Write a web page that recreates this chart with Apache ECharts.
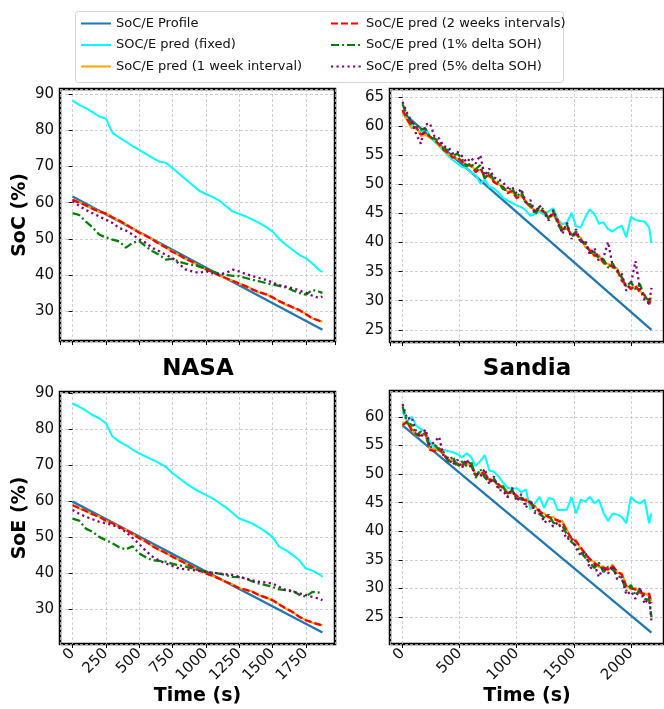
<!DOCTYPE html>
<html>
<head>
<meta charset="utf-8">
<script src="https://cdn.jsdelivr.net/npm/echarts@6/dist/echarts.min.js"></script>
<style>
  html, body { margin: 0; padding: 0; background: #fff; }
  #chart { width: 664px; height: 709px; }
</style>
</head>
<body>
<div id="chart"></div>
<script>
  // series names (legend order)
  const names = [
    'SoC/E Profile',
    'SOC/E pred (fixed)',
    'SoC/E pred (1 week interval)',
    'SoC/E pred (2 weeks intervals)',
    'SoC/E pred (1% delta SOH)',
    'SoC/E pred (5% delta SOH)'
  ]

  // ---- NASA ----
  const nasaTime = [0, 50, 100, 150, 200, 250, 300, 350, 400, 450, 500, 550, 600, 650, 700, 750, 800, 850, 900, 950,
    1000, 1050, 1100, 1150, 1200, 1250, 1300, 1350, 1400, 1450, 1500, 1550, 1600, 1650, 1700, 1750, 1800, 1850, 1875]
  const nasaProfileTime = [0, 1875]

  const nasaSocProfile = [61.7, 24.9]
  const nasaSocFixed = [88.2, 87.0, 86.1, 85.0, 83.8, 83.2, 79.3, 78.0, 76.9, 75.6,
    74.6, 73.5, 72.4, 71.4, 71.0, 69.6, 68.0, 66.4, 64.9, 63.3,
    62.4, 61.6, 60.6, 59.1, 57.6, 56.9, 56.2, 55.3, 54.4, 53.3,
    52.1, 50.0, 48.4, 47.0, 45.6, 44.7, 43.2, 41.4, 40.9]
  const nasaSocWeek1 = [60.9, 60.2, 59.1, 58.5, 57.4, 57.1, 56.0, 54.9, 54.1, 52.8,
    51.9, 50.8, 49.9, 48.7, 47.5, 46.6, 45.4, 44.5, 43.5, 42.6,
    41.5, 40.9, 40.0, 39.0, 38.5, 37.6, 37.0, 36.1, 35.1, 34.8,
    33.8, 32.9, 31.8, 31.2, 30.2, 29.4, 28.0, 27.5, 27.1]
  const nasaSocWeek2 = [60.8, 60.0, 59.3, 58.3, 57.6, 57.0, 55.9, 55.1, 54.0, 52.9,
    51.7, 50.9, 49.8, 48.6, 47.6, 46.4, 45.6, 44.4, 43.6, 42.4,
    41.6, 40.8, 39.9, 39.2, 38.4, 37.7, 36.9, 36.0, 35.3, 34.7,
    33.9, 32.8, 32.0, 31.1, 30.4, 29.2, 28.1, 27.4, 27.0]
  const nasaSocSoh1 = [57.1, 56.6, 54.8, 53.2, 51.2, 50.4, 49.8, 49.3, 47.6, 48.9,
    49.4, 47.9, 46.6, 45.6, 44.3, 44.5, 43.7, 43.2, 42.8, 42.4,
    41.8, 41.0, 40.4, 40.1, 39.8, 39.7, 39.2, 38.7, 38.3, 37.8,
    37.4, 37.0, 36.6, 35.8, 35.1, 34.6, 35.9, 35.4, 35.1]
  const nasaSocSoh5 = [60.4, 59.1, 58.0, 57.1, 56.2, 55.3, 54.4, 53.0, 52.3, 51.2,
    49.9, 48.9, 47.5, 46.6, 45.6, 44.7, 43.1, 41.5, 41.0, 40.6,
    41.1, 40.5, 40.2, 40.6, 41.5, 41.0, 40.3, 39.7, 39.2, 38.7,
    38.0, 37.2, 36.8, 36.4, 35.8, 35.1, 34.3, 33.7, 34.1]

  const nasaSoeProfile = [59.9, 23.5]
  const nasaSoeFixed = [87.2, 86.3, 85.2, 84.0, 83.1, 81.7, 78.0, 76.6, 75.6, 74.4,
    73.3, 72.4, 71.5, 70.6, 69.6, 67.8, 66.4, 65.0, 63.8, 62.7,
    61.8, 60.8, 59.6, 58.3, 56.8, 55.2, 54.5, 53.8, 52.7, 51.5,
    50.1, 47.4, 46.4, 45.1, 43.6, 41.3, 40.7, 39.7, 39.0]
  const nasaSoeWeek1 = [59.0, 58.0, 57.4, 56.3, 55.8, 54.5, 54.0, 52.8, 52.1, 50.8,
    49.8, 48.7, 47.6, 46.4, 45.7, 44.5, 43.7, 42.6, 41.8, 40.7,
    40.0, 39.2, 38.6, 37.5, 36.9, 35.9, 35.3, 34.9, 33.8, 33.3,
    32.4, 31.4, 30.1, 29.3, 27.8, 27.0, 26.2, 25.8, 25.5]
  const nasaSoeWeek2 = [58.9, 58.1, 57.3, 56.4, 55.7, 54.6, 53.9, 52.9, 52.0, 50.9,
    49.7, 48.8, 47.5, 46.5, 45.6, 44.6, 43.6, 42.7, 41.7, 40.8,
    39.9, 39.3, 38.5, 37.6, 36.8, 35.8, 35.4, 34.8, 33.9, 33.2,
    32.5, 31.3, 30.2, 29.2, 27.9, 26.9, 26.3, 25.7, 25.4]
  const nasaSoeSoh1 = [55.2, 54.6, 52.4, 51.5, 50.1, 49.2, 48.3, 47.2, 46.6, 47.5,
    45.5, 44.4, 43.6, 43.4, 43.2, 42.6, 42.2, 41.8, 41.3, 40.8,
    40.4, 40.1, 39.9, 39.5, 39.0, 38.9, 38.5, 37.7, 37.1, 36.7,
    36.2, 35.5, 35.3, 35.2, 34.0, 33.5, 34.8, 34.6, 34.4]
  const nasaSoeSoh5 = [57.6, 56.5, 55.7, 55.0, 54.3, 53.9, 53.4, 52.6, 51.5, 49.8,
    48.1, 46.2, 44.6, 43.5, 42.7, 42.0, 41.3, 41.1, 40.9, 40.6,
    40.4, 40.2, 39.9, 39.7, 39.5, 39.0, 38.5, 38.0, 37.6, 37.4,
    37.1, 36.2, 35.3, 34.9, 34.4, 33.9, 33.4, 32.9, 32.5]

  // ---- Sandia ----
  const sandiaTime = [0, 40, 80, 120, 160, 200, 240, 280, 320, 360, 400, 440, 480, 520, 560, 600, 640, 680, 720, 760,
    800, 840, 880, 920, 960, 1000, 1040, 1080, 1120, 1160, 1200, 1240, 1280, 1320, 1360, 1400, 1440, 1480, 1520, 1560,
    1600, 1640, 1680, 1720, 1760, 1800, 1840, 1880, 1920, 1960, 2000, 2040, 2080, 2120, 2160, 2180]
  const sandiaProfileTime = [0, 2180]

  const sandiaSocProfile = [62.4, 25.0]
  const sandiaSocFixed = [62.5, 61.0, 60.2, 59.5, 59.0, 59.6, 58.3, 57.3, 56.6, 55.8,
    54.9, 54.2, 53.6, 53.0, 52.8, 52.1, 51.6, 50.2, 50.8, 49.6,
    49.3, 48.6, 47.7, 47.2, 46.8, 46.4, 46.1, 45.5, 44.6, 44.9,
    45.3, 44.8, 45.4, 45.9, 43.9, 43.2, 43.4, 45.1, 42.8, 42.6,
    44.3, 45.7, 44.9, 43.2, 43.5, 42.3, 41.9, 42.5, 42.9, 40.9,
    44.4, 43.9, 43.7, 43.6, 42.6, 39.9]
  const sandiaSocWeek1 = [62.5, 61.0, 59.6, 59.9, 58.3, 58.5, 58.0, 57.8, 56.6, 56.2,
    55.1, 54.8, 54.4, 54.1, 53.2, 53.4, 52.3, 52.5, 51.5, 51.3,
    50.6, 50.1, 49.3, 48.8, 48.6, 47.9, 48.0, 47.2, 46.0, 45.6,
    45.5, 45.4, 44.2, 44.6, 43.9, 42.5, 42.3, 41.5, 41.2, 40.9,
    39.2, 38.9, 37.6, 37.9, 36.3, 36.4, 35.6, 35.6, 33.7, 32.5,
    32.3, 32.3, 31.7, 30.8, 29.8, 30.6]
  const sandiaSocWeek2 = [62.8, 61.2, 60.0, 59.8, 58.6, 58.9, 58.2, 57.6, 56.9, 55.9,
    55.4, 54.6, 54.7, 53.9, 53.4, 53.2, 52.1, 52.8, 51.3, 51.6,
    50.4, 49.9, 49.6, 48.5, 48.9, 47.6, 48.3, 46.9, 46.2, 45.3,
    45.8, 45.2, 44.4, 44.9, 43.6, 42.2, 42.6, 41.2, 41.5, 40.6,
    39.5, 38.6, 37.8, 37.6, 36.6, 36.1, 35.9, 35.3, 33.4, 32.8,
    32.0, 32.6, 31.4, 31.0, 29.4, 30.4]
  const sandiaSocSoh1 = [63.8, 61.8, 60.6, 60.2, 59.4, 59.6, 58.0, 57.9, 57.4, 56.1,
    55.9, 54.9, 55.3, 54.4, 53.1, 53.7, 52.6, 53.3, 51.0, 52.2,
    50.7, 50.4, 49.2, 49.0, 49.4, 47.8, 48.9, 46.6, 46.6, 44.8,
    46.2, 45.6, 44.0, 45.4, 43.2, 41.8, 43.1, 40.9, 41.9, 40.2,
    39.9, 38.2, 38.4, 37.2, 37.1, 35.7, 36.4, 35.0, 34.1, 32.4,
    33.2, 32.0, 32.8, 30.6, 30.1, 30.9]
  const sandiaSocSoh5 = [64.2, 62.2, 60.8, 58.6, 57.0, 60.3, 60.5, 58.2, 57.9, 56.5,
    56.4, 55.3, 55.6, 54.9, 53.8, 54.6, 53.6, 55.0, 51.5, 52.7,
    51.2, 50.9, 50.3, 49.4, 49.5, 48.4, 49.2, 46.9, 47.3, 45.2,
    46.4, 45.1, 43.8, 45.6, 43.8, 41.5, 43.4, 40.6, 42.3, 39.9,
    40.4, 38.0, 39.1, 36.8, 37.4, 40.1, 36.0, 35.2, 34.6, 31.7,
    32.9, 36.8, 32.0, 30.1, 29.5, 32.2]

  const sandiaSoeProfile = [58.5, 22.3]
  const sandiaSoeFixed = [61.0, 59.2, 60.0, 58.4, 57.9, 57.4, 55.6, 54.6, 54.4, 54.2,
    54.0, 53.8, 53.5, 52.9, 53.6, 53.0, 51.4, 52.2, 53.3, 50.6,
    50.4, 49.6, 48.5, 47.6, 47.4, 47.5, 46.8, 47.3, 43.8, 44.9,
    46.0, 44.1, 45.8, 45.6, 43.7, 43.7, 43.8, 46.0, 43.1, 45.5,
    45.2, 46.0, 44.9, 45.5, 43.2, 41.8, 43.1, 42.9, 42.5, 41.4,
    46.0, 45.2, 44.9, 45.5, 41.4, 43.1]
  const sandiaSoeWeek1 = [59.0, 58.8, 57.9, 56.7, 56.9, 56.8, 54.5, 54.3, 54.0, 53.6,
    52.2, 52.6, 51.5, 51.8, 51.6, 51.8, 50.0, 50.1, 50.3, 48.8,
    49.0, 47.9, 47.8, 46.9, 46.6, 46.3, 45.4, 45.7, 44.6, 44.5,
    43.2, 43.1, 42.3, 42.5, 41.6, 41.8, 40.3, 38.5, 38.5, 36.9,
    36.3, 34.9, 34.7, 33.7, 33.9, 33.1, 34.2, 32.7, 32.7, 30.6,
    29.8, 30.1, 29.1, 29.2, 28.7, 27.8]
  const sandiaSoeWeek2 = [58.5, 59.2, 57.6, 57.0, 56.6, 57.2, 54.2, 54.0, 54.5, 53.3,
    52.5, 52.3, 51.8, 51.5, 52.0, 51.5, 49.7, 50.4, 50.0, 49.1,
    48.8, 48.2, 47.5, 46.6, 46.9, 46.1, 45.6, 45.4, 44.9, 44.2,
    43.5, 42.9, 42.5, 42.2, 41.9, 41.5, 40.0, 38.8, 38.2, 37.2,
    36.0, 35.2, 34.4, 34.0, 33.6, 33.4, 33.9, 33.0, 32.4, 30.3,
    30.1, 29.8, 29.4, 28.9, 29.1, 27.4]
  const sandiaSoeSoh1 = [61.8, 58.9, 58.6, 56.8, 57.4, 57.0, 54.6, 55.1, 54.2, 53.8,
    52.1, 53.1, 51.2, 52.2, 51.4, 52.3, 49.3, 50.9, 49.4, 48.6,
    49.3, 47.6, 47.9, 46.1, 47.3, 45.5, 45.9, 44.8, 45.2, 43.6,
    43.0, 42.4, 42.9, 41.5, 41.2, 41.0, 39.4, 38.1, 37.5, 36.4,
    35.4, 34.5, 33.6, 34.5, 32.9, 33.8, 33.3, 32.4, 31.7, 29.6,
    30.6, 28.8, 29.8, 28.2, 28.0, 25.0]
  const sandiaSoeSoh5 = [62.2, 59.6, 59.9, 57.3, 56.4, 57.8, 55.0, 55.6, 56.5, 53.0,
    52.8, 51.6, 52.5, 51.0, 52.6, 51.1, 50.2, 49.5, 50.9, 48.2,
    49.6, 47.2, 47.1, 45.9, 47.6, 45.2, 46.5, 44.1, 45.5, 43.1,
    43.8, 41.5, 42.0, 40.8, 41.5, 40.2, 38.6, 38.9, 37.0, 35.8,
    36.5, 33.4, 34.2, 32.0, 33.8, 32.6, 34.0, 31.6, 32.0, 28.9,
    29.5, 28.2, 30.2, 27.3, 28.5, 24.3]

  const FONT = 'DejaVu Sans'
  const TXT = '#111'

  // line styles per series (matplotlib tab:blue, cyan, orange, red --, green -., purple :)
  const styles = [
    { color: '#1f77b4', width: 2.3, type: 'solid' },
    { color: '#00ffff', width: 2, type: 'solid' },
    { color: '#ffa500', width: 2, type: 'solid' },
    { color: '#ff0000', width: 2.3, type: [7, 3] },
    { color: '#008000', width: 2.3, type: [8, 3, 2, 3] },
    { color: '#800080', width: 2.3, type: [2.2, 3.3] }
  ]

  function pairs(t, v) {
    return v.map((y, i) => [t[i], y])
  }

  function panel(idx, time, profileTime, sets) {
    return sets.map((vals, k) => ({
      name: names[k],
      type: 'line',
      xAxisIndex: idx,
      yAxisIndex: idx,
      symbol: 'none',
      silent: true,
      animation: false,
      color: styles[k].color,
      lineStyle: { color: styles[k].color, width: styles[k].width, type: styles[k].type, cap: 'butt' },
      data: pairs(k === 0 ? profileTime : time, vals)
    }))
  }

  const gridLine = { show: true, lineStyle: { color: '#c4c4c4', width: 0.8, type: [3, 2] } }

  function xAx(idx, min, max, step, withLabels) {
    return {
      type: 'value', gridIndex: idx, min: min, max: max,
      minInterval: step, maxInterval: step,
      axisLine: { show: false },
      axisTick: { show: true, length: 4, lineStyle: { color: '#000', width: 1 } },
      axisLabel: {
        show: withLabels, rotate: 45, margin: 7, showMinLabel: false, showMaxLabel: false,
        fontFamily: FONT, fontSize: 15, color: TXT,
        formatter: v => String(v)
      },
      splitLine: gridLine,
      name: withLabels ? 'Time (s)' : '',
      nameLocation: 'middle', nameGap: 42,
      nameTextStyle: { fontFamily: FONT, fontSize: 19, fontWeight: 'bold', color: '#000' }
    }
  }

  function yAx(idx, min, max, step, name) {
    return {
      type: 'value', gridIndex: idx, min: min, max: max,
      minInterval: step, maxInterval: step,
      axisLine: { show: false },
      axisTick: { show: true, length: 4, lineStyle: { color: '#000', width: 1 } },
      axisLabel: {
        margin: 6, showMinLabel: false, showMaxLabel: false,
        fontFamily: FONT, fontSize: 15, color: TXT
      },
      splitLine: gridLine,
      name: name,
      nameLocation: 'middle', nameGap: 30,
      nameTextStyle: { fontFamily: FONT, fontSize: 19, fontWeight: 'bold', color: '#000' }
    }
  }

  const frame = { show: true, borderColor: '#000', borderWidth: 2.5, backgroundColor: '#fff' }

  const chart = echarts.init(document.getElementById('chart'))

  const legendText = { fontFamily: FONT, fontSize: 13, color: TXT }
  const legendBase = {
    orient: 'vertical', top: 17, padding: 0,
    itemWidth: 30, itemHeight: 14, itemGap: 8.5, textStyle: legendText, selectedMode: false,
    itemStyle: { opacity: 0, borderWidth: 0 }
  }

  chart.setOption({
    animation: false,
    graphic: [
      {
        type: 'rect', left: 75, top: 11, z: -1,
        shape: { width: 488, height: 71, r: 3 },
        style: { fill: '#fff', stroke: '#d4d4d4', lineWidth: 1 }
      },
      {
        type: 'text',
        style: { text: 'NASA', x: 198, y: 369, textAlign: 'center', textVerticalAlign: 'middle',
          font: 'bold 23px "DejaVu Sans"', fill: '#000' }
      },
      {
        type: 'text',
        style: { text: 'Sandia', x: 527, y: 369, textAlign: 'center', textVerticalAlign: 'middle',
          font: 'bold 23px "DejaVu Sans"', fill: '#000' }
      }
    ],
    legend: [
      Object.assign({ data: names.slice(0, 3), left: 80 }, legendBase),
      Object.assign({ data: names.slice(3), left: 330 }, legendBase)
    ],
    grid: [
      Object.assign({ left: 60, top: 89, width: 275, height: 252 }, frame),
      Object.assign({ left: 390, top: 89, width: 276, height: 253 }, frame),
      Object.assign({ left: 60, top: 392, width: 275, height: 252 }, frame),
      Object.assign({ left: 390, top: 391, width: 276, height: 253 }, frame)
    ],
    xAxis: [
      xAx(0, -94, 1969, 250, false),
      xAx(1, -110, 2290, 500, false),
      xAx(2, -94, 1969, 250, true),
      xAx(3, -110, 2290, 500, true)
    ],
    yAxis: [
      yAx(0, 21.8, 91.4, 10, 'SoC (%)'),
      yAx(1, 22.9, 66.4, 5, ''),
      yAx(2, 20.3, 90.4, 10, 'SoE (%)'),
      yAx(3, 20.3, 64.5, 5, '')
    ],
    series: [].concat(
      panel(0, nasaTime, nasaProfileTime,
        [nasaSocProfile, nasaSocFixed, nasaSocWeek1, nasaSocWeek2, nasaSocSoh1, nasaSocSoh5]),
      panel(1, sandiaTime, sandiaProfileTime,
        [sandiaSocProfile, sandiaSocFixed, sandiaSocWeek1, sandiaSocWeek2, sandiaSocSoh1, sandiaSocSoh5]),
      panel(2, nasaTime, nasaProfileTime,
        [nasaSoeProfile, nasaSoeFixed, nasaSoeWeek1, nasaSoeWeek2, nasaSoeSoh1, nasaSoeSoh5]),
      panel(3, sandiaTime, sandiaProfileTime,
        [sandiaSoeProfile, sandiaSoeFixed, sandiaSoeWeek1, sandiaSoeWeek2, sandiaSoeSoh1, sandiaSoeSoh5])
    )
  })
</script>
</body>
</html>
